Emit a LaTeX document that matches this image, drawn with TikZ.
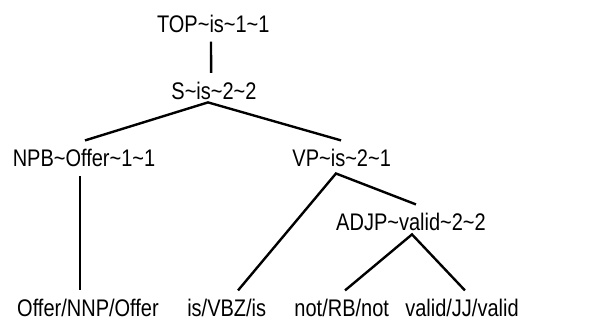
\documentclass[tikz,border=0pt]{standalone}
\usepackage{fontspec}
\setmainfont{Liberation Sans}
\usepackage{tikz}
\tikzset{every picture/.style={
  line width=1.8pt              % Heavy tree branches.
  }
}

% Helper macros.
\newcommand{\tld}{\textasciitilde}
\newcommand{\tall}[1]{\scalebox{1}[1.2]{#1}}

\begin{document}
\begin{tikzpicture}[
    x=0.75pt,
    y=-0.75pt,
    cons/.style={
      anchor=base,
      inner sep=6pt,
      font=\fontsize{15}{18}\selectfont
    },
    word/.style={
      cons
    }]
    \useasboundingbox (0,0) rectangle (607,323);

    % Draw the constituents with their heads.
    \node[cons] (top)  at (213.3,32.3)  {\tall{TOP\tld is\tld 1\tld 1}};
    \node[cons] (s)    at (214,99.5)    {\tall{S\tld is\tld 2\tld 2}};
    \node[cons] (npb)  at (84,167)      {\tall{NPB\tld Offer\tld 1\tld 1}};
    \node[cons] (vp)   at (341.7,167)   {\tall{VP\tld is\tld 2\tld 1}};
    \node[cons] (adjp) at (411,231)     {\tall{ADJP\tld valid\tld 2\tld 2}};

    % Draw the tagged words.
    \node[word] (offer) at (88,317)    {\tall{Offer/NNP/Offer}};
    \node[word] (is)    at (226.7,317) {\tall{is/VBZ/is}};
    \node[word] (not)   at (341.7,317) {\tall{not/RB/not}};
    \node[word] (valid) at (462,317)   {\tall{valid/JJ/valid}};

    % Draw the branches.
    \draw ([xshift=-1.7pt] top.south) -- ([xshift=-2.2pt] s.north);
    \draw ([xshift=0.75pt] npb.north) -- ([xshift=-4.5pt,yshift=4.9pt] s.south)
      -- ([xshift=-0.5pt] vp.north);
    \draw ([xshift=-3pt] npb.south) -- ([xshift=-6pt] offer.north);
    \draw ([xshift=8.5pt] is.north) -- ([xshift=-4.3pt,yshift=2.2pt] vp.south)
      -- ([xshift=3.7pt] adjp.north);
    \draw ([xshift=2.5pt] not.north) -- ([xshift=0.75pt,yshift=4.5pt] adjp.south)
      -- ([xshift=2.2pt] valid.north);

\end{tikzpicture}
\end{document}
